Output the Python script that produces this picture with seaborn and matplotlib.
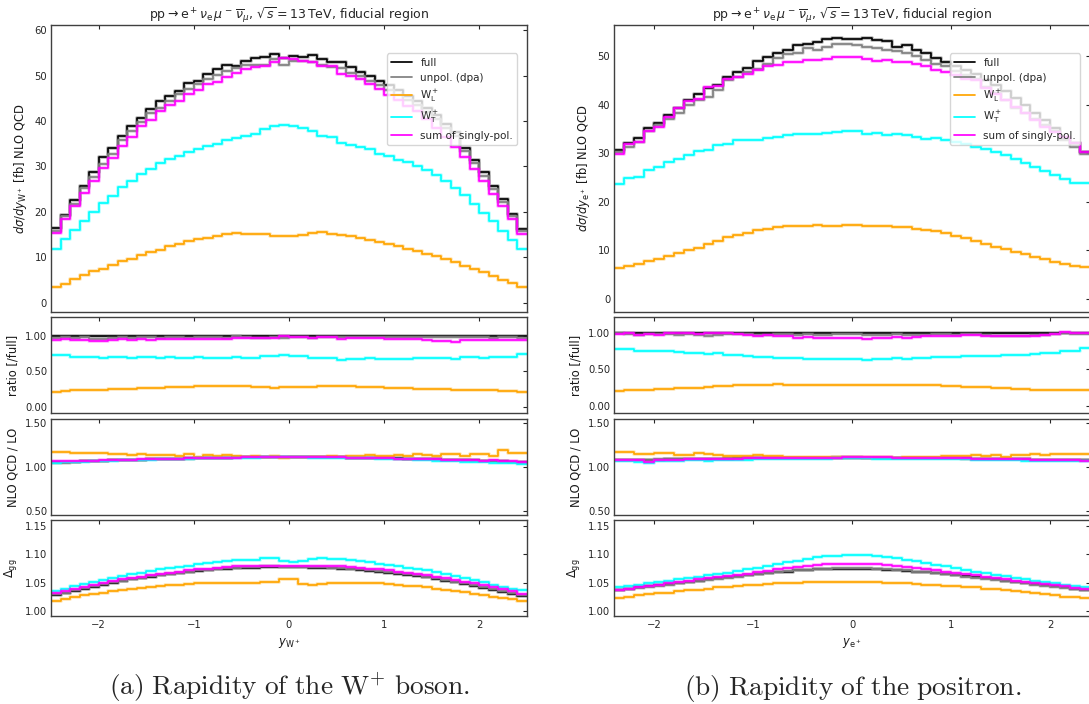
import numpy as np
import pandas as pd
import matplotlib
matplotlib.use("Agg")
import matplotlib.pyplot as plt
from matplotlib.lines import Line2D
import seaborn as sns

# ---------------------------------------------------------------------------
# Binning
# ---------------------------------------------------------------------------
edges_w = np.round(np.arange(-2.5, 2.5001, 0.1), 2)   # 50 bins in y_W+
edges_e = np.round(np.arange(-2.4, 2.4001, 0.1), 2)   # 48 bins in y_e+

series_names = ["full", "unpol", "WL", "WT", "sum"]
series_labels = ["full", "unpol. (dpa)", r"$\mathrm{W}^+_\mathrm{L}$",
                 r"$\mathrm{W}^+_\mathrm{T}$", "sum of singly-pol."]
series_colors = ["#000000", "#808080", "#FFA500", "#00FFFF", "#FF00FF"]

# ---------------------------------------------------------------------------
# W+ rapidity: NLO QCD differential cross sections [fb]
# ---------------------------------------------------------------------------
xs_full_w = [16.5, 19.4, 22.7, 25.8, 28.8, 32.0, 34.1, 36.6, 38.9, 40.6,
             42.6, 44.5, 45.6, 46.7, 48.4, 48.9, 50.3, 51.4, 52.3, 52.2,
             53.2, 53.9, 54.2, 54.8, 53.9, 54.4, 54.0, 54.6, 53.6, 53.1,
             52.9, 51.8, 50.8, 50.0, 48.9, 47.9, 46.8, 45.6, 44.5, 42.9,
             41.3, 39.4, 37.5, 34.0, 31.5, 28.7, 25.7, 22.8, 19.6, 16.2]
xs_unpol_w = [15.9, 19.1, 21.8, 25.3, 27.6, 30.6, 32.8, 35.9, 37.7, 39.7,
              41.8, 42.9, 44.5, 46.0, 47.0, 48.1, 49.2, 50.1, 50.9, 51.6,
              52.3, 52.4, 52.4, 53.6, 52.4, 53.3, 53.2, 52.9, 52.4, 51.9,
              51.6, 50.6, 49.8, 48.9, 47.9, 46.9, 45.8, 44.6, 43.5, 42.0,
              40.4, 38.5, 36.6, 33.3, 30.8, 28.0, 25.0, 22.2, 19.1, 15.7]
xs_wl_w = [3.5, 4.2, 5.2, 6.1, 6.9, 7.5, 8.4, 9.1, 9.7, 10.6,
           11.2, 11.7, 12.4, 13.0, 13.5, 14.1, 14.3, 14.7, 15.1, 15.4,
           15.2, 15.2, 15.1, 14.7, 14.7, 14.7, 15.0, 15.3, 15.5, 15.2,
           15.0, 14.8, 14.3, 13.9, 13.3, 12.9, 12.4, 11.8, 11.3, 10.8,
           10.2, 9.6, 8.9, 8.2, 7.5, 6.7, 5.9, 5.1, 4.3, 3.4]
xs_wt_w = [11.9, 14.1, 16.0, 18.1, 20.0, 21.9, 23.6, 25.4, 26.8, 28.3,
           29.5, 30.7, 31.7, 32.3, 33.1, 33.9, 34.6, 35.0, 35.9, 36.2,
           36.8, 37.2, 38.3, 38.8, 39.2, 39.0, 38.4, 37.7, 36.6, 36.4,
           35.1, 34.8, 34.2, 33.9, 32.8, 32.3, 31.5, 30.9, 30.2, 29.3,
           28.2, 26.8, 25.2, 23.8, 21.8, 19.8, 18.0, 15.9, 13.8, 11.9]
xs_sum_w = [15.4, 18.5, 21.3, 24.1, 26.8, 29.6, 31.9, 34.6, 36.4, 38.8,
            40.2, 42.2, 43.5, 44.3, 45.9, 46.9, 48.2, 48.6, 49.7, 50.5,
            51.4, 51.9, 52.2, 53.0, 53.8, 53.6, 53.2, 53.0, 52.2, 52.0,
            50.3, 50.0, 49.3, 48.2, 47.0, 45.8, 44.6, 43.4, 42.1, 40.4,
            38.4, 36.4, 34.2, 32.0, 29.5, 26.8, 24.0, 21.3, 18.4, 15.2]

# NLO QCD / LO K-factors, W+ rapidity
k_full_w = [1.055, 1.058, 1.062, 1.065, 1.068, 1.072, 1.075, 1.078, 1.082, 1.085,
            1.088, 1.090, 1.093, 1.095, 1.098, 1.100, 1.102, 1.105, 1.108, 1.110,
            1.112, 1.114, 1.118, 1.116, 1.115, 1.114, 1.116, 1.112, 1.110, 1.112,
            1.110, 1.108, 1.106, 1.104, 1.102, 1.100, 1.098, 1.095, 1.093, 1.090,
            1.088, 1.085, 1.082, 1.078, 1.075, 1.072, 1.068, 1.065, 1.062, 1.055]
k_unpol_w = [1.042, 1.050, 1.060, 1.064, 1.068, 1.071, 1.075, 1.079, 1.081, 1.085,
             1.087, 1.090, 1.092, 1.096, 1.097, 1.100, 1.103, 1.104, 1.108, 1.110,
             1.111, 1.115, 1.117, 1.116, 1.114, 1.115, 1.115, 1.112, 1.111, 1.111,
             1.109, 1.108, 1.105, 1.104, 1.101, 1.099, 1.097, 1.094, 1.092, 1.089,
             1.087, 1.084, 1.081, 1.077, 1.074, 1.070, 1.067, 1.062, 1.058, 1.050]
k_wl_w = [1.175, 1.172, 1.160, 1.162, 1.160, 1.158, 1.150, 1.148, 1.140, 1.145,
          1.140, 1.132, 1.142, 1.130, 1.150, 1.115, 1.135, 1.122, 1.135, 1.125,
          1.120, 1.125, 1.118, 1.122, 1.105, 1.110, 1.115, 1.120, 1.118, 1.122,
          1.120, 1.125, 1.128, 1.135, 1.125, 1.130, 1.140, 1.130, 1.150, 1.135,
          1.130, 1.150, 1.145, 1.130, 1.148, 1.152, 1.130, 1.195, 1.158, 1.158]
k_wt_w = [1.048, 1.052, 1.055, 1.060, 1.064, 1.068, 1.071, 1.075, 1.079, 1.082,
          1.085, 1.088, 1.091, 1.094, 1.096, 1.099, 1.101, 1.103, 1.105, 1.107,
          1.108, 1.108, 1.109, 1.110, 1.110, 1.110, 1.109, 1.108, 1.107, 1.106,
          1.104, 1.102, 1.100, 1.098, 1.095, 1.092, 1.089, 1.086, 1.082, 1.078,
          1.074, 1.070, 1.066, 1.062, 1.058, 1.054, 1.050, 1.046, 1.042, 1.035]
k_sum_w = [1.065, 1.066, 1.068, 1.070, 1.072, 1.075, 1.078, 1.080, 1.083, 1.086,
           1.088, 1.091, 1.093, 1.096, 1.098, 1.100, 1.102, 1.104, 1.106, 1.108,
           1.110, 1.111, 1.112, 1.112, 1.113, 1.112, 1.112, 1.111, 1.110, 1.110,
           1.109, 1.107, 1.105, 1.103, 1.101, 1.099, 1.097, 1.094, 1.092, 1.089,
           1.087, 1.084, 1.081, 1.078, 1.075, 1.072, 1.075, 1.070, 1.066, 1.062]

# Delta_gg, W+ rapidity
dgg_full_w = [1.029, 1.032, 1.036, 1.040, 1.043, 1.047, 1.050, 1.053, 1.056, 1.058,
              1.061, 1.063, 1.065, 1.067, 1.069, 1.071, 1.072, 1.074, 1.075, 1.076,
              1.077, 1.077, 1.078, 1.078, 1.078, 1.078, 1.078, 1.077, 1.077, 1.076,
              1.075, 1.074, 1.073, 1.071, 1.070, 1.068, 1.066, 1.064, 1.062, 1.060,
              1.057, 1.054, 1.051, 1.048, 1.045, 1.041, 1.038, 1.034, 1.031, 1.027]
dgg_unpol_w = [1.030, 1.033, 1.037, 1.041, 1.044, 1.048, 1.051, 1.054, 1.057, 1.059,
               1.062, 1.064, 1.066, 1.068, 1.070, 1.072, 1.073, 1.075, 1.076, 1.077,
               1.078, 1.078, 1.079, 1.079, 1.078, 1.078, 1.078, 1.078, 1.078, 1.077,
               1.076, 1.075, 1.074, 1.072, 1.071, 1.069, 1.067, 1.065, 1.063, 1.061,
               1.058, 1.055, 1.052, 1.049, 1.046, 1.042, 1.039, 1.035, 1.032, 1.029]
dgg_wl_w = [1.019, 1.022, 1.025, 1.028, 1.031, 1.033, 1.035, 1.037, 1.039, 1.041,
            1.043, 1.045, 1.046, 1.047, 1.048, 1.049, 1.050, 1.050, 1.049, 1.049,
            1.049, 1.050, 1.051, 1.052, 1.056, 1.056, 1.048, 1.047, 1.048, 1.049,
            1.050, 1.050, 1.050, 1.049, 1.049, 1.048, 1.047, 1.045, 1.044, 1.042,
            1.040, 1.038, 1.036, 1.034, 1.031, 1.029, 1.026, 1.024, 1.021, 1.019]
dgg_wt_w = [1.036, 1.040, 1.044, 1.048, 1.052, 1.055, 1.058, 1.062, 1.065, 1.068,
            1.071, 1.074, 1.076, 1.078, 1.080, 1.083, 1.085, 1.087, 1.089, 1.090,
            1.091, 1.091, 1.093, 1.094, 1.088, 1.087, 1.089, 1.092, 1.093, 1.092,
            1.092, 1.090, 1.088, 1.086, 1.084, 1.082, 1.080, 1.077, 1.075, 1.072,
            1.069, 1.066, 1.062, 1.058, 1.055, 1.051, 1.047, 1.043, 1.040, 1.037]
dgg_sum_w = [1.032, 1.035, 1.039, 1.043, 1.046, 1.050, 1.053, 1.056, 1.059, 1.061,
             1.064, 1.066, 1.068, 1.070, 1.072, 1.074, 1.075, 1.077, 1.078, 1.079,
             1.080, 1.080, 1.080, 1.080, 1.079, 1.079, 1.079, 1.079, 1.080, 1.080,
             1.079, 1.078, 1.077, 1.075, 1.074, 1.072, 1.070, 1.068, 1.066, 1.064,
             1.061, 1.058, 1.055, 1.052, 1.049, 1.046, 1.043, 1.039, 1.035, 1.031]

# ---------------------------------------------------------------------------
# Positron rapidity: NLO QCD differential cross sections [fb]
# ---------------------------------------------------------------------------
xs_full_e = [30.6, 32.0, 33.2, 35.2, 36.3, 37.8, 39.2, 40.9, 42.1, 43.4,
             44.1, 45.7, 46.7, 47.5, 49.0, 49.8, 50.6, 51.3, 52.2, 52.5,
             52.9, 53.4, 53.7, 53.4, 53.4, 53.7, 53.2, 53.1, 51.8, 52.3,
             51.3, 50.5, 49.5, 48.8, 48.0, 47.1, 46.2, 45.1, 44.0, 42.8,
             41.3, 40.0, 38.3, 36.8, 35.2, 33.0, 32.0, 30.3]
xs_unpol_e = [30.3, 31.3, 32.3, 34.5, 35.8, 37.1, 38.2, 39.9, 40.9, 41.6,
              42.9, 45.0, 45.7, 46.6, 47.2, 48.4, 49.6, 50.3, 50.6, 51.6,
              51.3, 51.8, 52.4, 52.5, 52.2, 51.8, 51.6, 51.2, 51.0, 50.5,
              50.0, 49.2, 48.4, 47.9, 46.8, 46.0, 45.3, 43.6, 42.3, 40.9,
              39.3, 38.2, 37.1, 35.8, 34.5, 32.7, 31.3, 29.9]
xs_wl_e = [6.4, 6.8, 7.2, 7.9, 8.2, 8.9, 9.4, 10.1, 10.5, 11.4,
           12.0, 12.7, 13.2, 13.5, 14.2, 14.5, 14.9, 15.0, 15.1, 15.1,
           15.2, 15.0, 15.1, 15.2, 15.2, 15.1, 15.1, 15.0, 14.9, 14.9,
           14.5, 14.2, 14.0, 13.5, 13.0, 12.5, 12.0, 11.4, 10.8, 10.3,
           9.7, 9.2, 8.6, 8.2, 7.7, 7.3, 6.8, 6.6]
xs_wt_e = [23.6, 24.8, 25.1, 26.5, 27.2, 28.2, 28.8, 29.6, 30.5, 30.6,
           31.6, 31.8, 32.7, 32.7, 32.8, 33.2, 33.4, 33.7, 33.9, 33.9,
           34.0, 34.2, 34.4, 34.5, 34.5, 34.0, 34.2, 33.8, 33.9, 33.7,
           33.4, 32.9, 33.2, 32.8, 32.3, 31.8, 31.3, 30.8, 30.3, 29.6,
           28.7, 27.9, 27.2, 26.4, 25.5, 24.6, 23.8, 23.8]
xs_sum_e = [29.9, 31.8, 32.3, 34.5, 35.4, 37.5, 39.2, 40.7, 41.2, 43.5,
            43.8, 45.3, 45.7, 46.2, 47.1, 47.9, 48.1, 48.7, 48.7, 49.1,
            49.1, 49.4, 49.7, 49.8, 49.7, 49.3, 49.0, 49.1, 48.8, 48.8,
            48.4, 47.9, 47.1, 46.7, 46.0, 45.3, 45.0, 43.3, 42.1, 40.9,
            39.5, 38.2, 36.8, 35.4, 34.4, 33.4, 32.0, 30.3]

# NLO QCD / LO K-factors, positron rapidity
k_full_e = [1.078, 1.080, 1.082, 1.083, 1.085, 1.087, 1.088, 1.090, 1.092, 1.094,
            1.095, 1.097, 1.098, 1.100, 1.101, 1.102, 1.104, 1.105, 1.106, 1.106,
            1.107, 1.108, 1.108, 1.108, 1.108, 1.108, 1.107, 1.107, 1.106, 1.106,
            1.105, 1.104, 1.103, 1.101, 1.100, 1.098, 1.096, 1.094, 1.092, 1.090,
            1.088, 1.087, 1.085, 1.083, 1.082, 1.080, 1.082, 1.078]
k_unpol_e = [1.080, 1.082, 1.080, 1.085, 1.086, 1.088, 1.090, 1.091, 1.093, 1.095,
             1.096, 1.098, 1.099, 1.101, 1.102, 1.103, 1.104, 1.106, 1.106, 1.107,
             1.108, 1.108, 1.109, 1.109, 1.109, 1.108, 1.108, 1.107, 1.107, 1.106,
             1.105, 1.104, 1.102, 1.101, 1.099, 1.097, 1.095, 1.093, 1.091, 1.089,
             1.087, 1.086, 1.084, 1.082, 1.081, 1.079, 1.080, 1.077]
k_wl_e = [1.176, 1.170, 1.150, 1.148, 1.160, 1.160, 1.140, 1.135, 1.158, 1.145,
          1.135, 1.130, 1.130, 1.125, 1.135, 1.125, 1.128, 1.115, 1.118, 1.120,
          1.118, 1.114, 1.116, 1.112, 1.110, 1.112, 1.110, 1.114, 1.105, 1.110,
          1.118, 1.120, 1.120, 1.125, 1.128, 1.130, 1.135, 1.128, 1.140, 1.118,
          1.135, 1.140, 1.150, 1.140, 1.145, 1.150, 1.145, 1.152]
k_wt_e = [1.065, 1.068, 1.060, 1.045, 1.070, 1.072, 1.074, 1.076, 1.075, 1.065,
          1.078, 1.080, 1.082, 1.085, 1.087, 1.088, 1.090, 1.092, 1.094, 1.095,
          1.096, 1.097, 1.098, 1.098, 1.099, 1.098, 1.090, 1.097, 1.096, 1.095,
          1.094, 1.093, 1.092, 1.090, 1.088, 1.086, 1.084, 1.082, 1.080, 1.078,
          1.076, 1.074, 1.072, 1.070, 1.068, 1.066, 1.065, 1.064]
k_sum_e = [1.080, 1.078, 1.075, 1.062, 1.080, 1.082, 1.084, 1.086, 1.088, 1.090,
           1.092, 1.094, 1.096, 1.098, 1.100, 1.101, 1.102, 1.104, 1.105, 1.106,
           1.107, 1.108, 1.108, 1.109, 1.110, 1.110, 1.109, 1.109, 1.108, 1.107,
           1.106, 1.105, 1.104, 1.102, 1.100, 1.099, 1.097, 1.095, 1.093, 1.091,
           1.089, 1.087, 1.085, 1.083, 1.080, 1.078, 1.076, 1.074]

# Delta_gg, positron rapidity
dgg_full_e = [1.038, 1.040, 1.042, 1.044, 1.046, 1.048, 1.050, 1.052, 1.054, 1.056,
              1.058, 1.060, 1.062, 1.064, 1.066, 1.067, 1.069, 1.070, 1.072, 1.073,
              1.074, 1.074, 1.075, 1.075, 1.075, 1.075, 1.074, 1.073, 1.072, 1.071,
              1.070, 1.069, 1.068, 1.066, 1.064, 1.062, 1.060, 1.058, 1.056, 1.054,
              1.052, 1.050, 1.048, 1.046, 1.044, 1.042, 1.040, 1.038]
dgg_unpol_e = [1.037, 1.039, 1.041, 1.043, 1.045, 1.047, 1.049, 1.051, 1.053, 1.055,
               1.057, 1.059, 1.061, 1.063, 1.065, 1.067, 1.069, 1.071, 1.072, 1.073,
               1.074, 1.075, 1.076, 1.076, 1.076, 1.076, 1.075, 1.074, 1.073, 1.072,
               1.070, 1.069, 1.067, 1.065, 1.063, 1.061, 1.059, 1.057, 1.055, 1.053,
               1.051, 1.049, 1.047, 1.045, 1.043, 1.041, 1.039, 1.037]
dgg_wl_e = [1.024, 1.026, 1.028, 1.030, 1.032, 1.033, 1.035, 1.037, 1.038, 1.040,
            1.042, 1.043, 1.044, 1.046, 1.047, 1.048, 1.049, 1.050, 1.050, 1.051,
            1.051, 1.051, 1.051, 1.051, 1.051, 1.051, 1.051, 1.050, 1.050, 1.049,
            1.048, 1.047, 1.046, 1.045, 1.044, 1.043, 1.042, 1.040, 1.039, 1.037,
            1.035, 1.034, 1.032, 1.030, 1.028, 1.026, 1.025, 1.024]
dgg_wt_e = [1.043, 1.045, 1.047, 1.050, 1.052, 1.054, 1.056, 1.058, 1.061, 1.063,
            1.065, 1.068, 1.071, 1.074, 1.077, 1.080, 1.083, 1.086, 1.089, 1.092,
            1.095, 1.097, 1.098, 1.099, 1.099, 1.099, 1.098, 1.096, 1.094, 1.091,
            1.088, 1.085, 1.082, 1.079, 1.076, 1.073, 1.070, 1.067, 1.064, 1.062,
            1.059, 1.057, 1.054, 1.052, 1.050, 1.047, 1.045, 1.043]
dgg_sum_e = [1.038, 1.040, 1.043, 1.045, 1.047, 1.050, 1.052, 1.054, 1.056, 1.058,
             1.060, 1.062, 1.064, 1.066, 1.069, 1.071, 1.074, 1.076, 1.078, 1.080,
             1.082, 1.083, 1.084, 1.084, 1.084, 1.084, 1.083, 1.082, 1.080, 1.078,
             1.076, 1.074, 1.072, 1.070, 1.068, 1.065, 1.063, 1.061, 1.059, 1.056,
             1.054, 1.052, 1.050, 1.048, 1.046, 1.044, 1.041, 1.039]

# ---------------------------------------------------------------------------
# Style
# ---------------------------------------------------------------------------
sns.set_theme(style="white")
plt.rcParams.update({
    "font.family": ["DejaVu Sans"],
    "mathtext.fontset": "dejavusans",
    "axes.edgecolor": "0.25",
    "axes.linewidth": 1.0,
    "xtick.direction": "in",
    "ytick.direction": "in",
    "xtick.top": True,
    "ytick.right": True,
    "xtick.major.size": 3.0,
    "ytick.major.size": 3.0,
    "xtick.major.width": 0.8,
    "ytick.major.width": 0.8,
    "xtick.color": "0.15",
    "ytick.color": "0.15",
    "xtick.labelsize": 7.2,
    "ytick.labelsize": 7.2,
    "xtick.major.pad": 3.0,
    "ytick.major.pad": 3.0,
    "axes.labelsize": 8.3,
    "axes.labelcolor": "0.1",
    "axes.titlesize": 9.0,
})

W, H = 1089, 704
fig = plt.figure(figsize=(W / 100, H / 100), dpi=100)

# panel rows in pixels (top, bottom)
rows_px = [(24.7, 312.3), (317.3, 413.3), (419.0, 515.0), (520.3, 616.0)]
axes_w_px = 475.5
cols_px = [51.2, 614.4]


def make_axes(x0_px):
    axs = []
    for top, bot in rows_px:
        axs.append(fig.add_axes([x0_px / W, 1 - bot / H, axes_w_px / W, (bot - top) / H]))
    return axs


def draw_steps(ax, edges, values, color):
    vals = np.asarray(values, dtype=float)
    assert len(vals) == len(edges) - 1
    df = pd.DataFrame({"x": edges, "y": np.append(vals, vals[-1])})
    sns.lineplot(data=df, x="x", y="y", ax=ax, color=color, lw=2.8, alpha=0.25,
                 drawstyle="steps-post", errorbar=None, sort=False, legend=False)
    sns.lineplot(data=df, x="x", y="y", ax=ax, color=color, lw=1.25,
                 drawstyle="steps-post", errorbar=None, sort=False, legend=False)


panels = [
    dict(edges=edges_w, xlim=(-2.5, 2.5),
         xs=[xs_full_w, xs_unpol_w, xs_wl_w, xs_wt_w, xs_sum_w],
         k=[k_full_w, k_unpol_w, k_wl_w, k_wt_w, k_sum_w],
         dgg=[dgg_full_w, dgg_unpol_w, dgg_wl_w, dgg_wt_w, dgg_sum_w],
         ylim_main=(-2.1, 61.2), yticks_main=[0, 10, 20, 30, 40, 50, 60],
         ylim_ratio=(-0.094, 1.258),
         ylabel=r"$d\sigma/dy_{\mathrm{W}^+}$ [fb] NLO QCD",
         xlabel=r"$y_{\mathrm{W}^+}$",
         caption=r"$\mathrm{(a)\ Rapidity\ of\ the\ W^{+}\ boson.}$"),
    dict(edges=edges_e, xlim=(-2.4, 2.4),
         xs=[xs_full_e, xs_unpol_e, xs_wl_e, xs_wt_e, xs_sum_e],
         k=[k_full_e, k_unpol_e, k_wl_e, k_wt_e, k_sum_e],
         dgg=[dgg_full_e, dgg_unpol_e, dgg_wl_e, dgg_wt_e, dgg_sum_e],
         ylim_main=(-2.7, 56.4), yticks_main=[0, 10, 20, 30, 40, 50],
         ylim_ratio=(-0.10, 1.21),
         ylabel=r"$d\sigma/dy_{\mathrm{e}^+}$ [fb] NLO QCD",
         xlabel=r"$y_{\mathrm{e}^+}$",
         caption=r"$\mathrm{(b)\ Rapidity\ of\ the\ positron.}$"),
]

title = (r"$\mathrm{pp}\rightarrow\mathrm{e}^+\nu_\mathrm{e}\,\mu^-\,\overline{\nu}_\mu$, "
         r"$\sqrt{s}=13\,\mathrm{TeV}$, fiducial region")

for x0, p in zip(cols_px, panels):
    ax_main, ax_ratio, ax_k, ax_dgg = make_axes(x0)
    edges = p["edges"]
    full = np.asarray(p["xs"][0], dtype=float)

    for vals, color in zip(p["xs"], series_colors):
        draw_steps(ax_main, edges, vals, color)
        draw_steps(ax_ratio, edges, np.asarray(vals, dtype=float) / full, color)
    for vals, color in zip(p["k"], series_colors):
        draw_steps(ax_k, edges, vals, color)
    for vals, color in zip(p["dgg"], series_colors):
        draw_steps(ax_dgg, edges, vals, color)

    ax_main.set_ylim(*p["ylim_main"])
    ax_main.set_yticks(p["yticks_main"])
    ax_ratio.set_ylim(*p["ylim_ratio"])
    ax_ratio.set_yticks([0.0, 0.5, 1.0])
    ax_ratio.set_yticklabels(["0.00", "0.50", "1.00"])
    ax_k.set_ylim(0.45, 1.55)
    ax_k.set_yticks([0.5, 1.0, 1.5])
    ax_k.set_yticklabels(["0.50", "1.00", "1.50"])
    ax_dgg.set_ylim(0.9918, 1.16)
    ax_dgg.set_yticks([1.00, 1.05, 1.10, 1.15])
    ax_dgg.set_yticklabels(["1.00", "1.05", "1.10", "1.15"])

    for ax in (ax_main, ax_ratio, ax_k, ax_dgg):
        ax.set_xlim(*p["xlim"])
        ax.set_xticks([-2, -1, 0, 1, 2])
        ax.set_xlabel("")
        ax.tick_params(which="both", direction="in", top=True, right=True)
    for ax in (ax_main, ax_ratio, ax_k):
        ax.tick_params(labelbottom=False)
    ax_dgg.set_xticklabels(["\u22122", "\u22121", "0", "1", "2"])

    ax_main.set_ylabel(p["ylabel"])
    ax_ratio.set_ylabel("ratio [/full]")
    ax_k.set_ylabel("NLO QCD / LO")
    ax_dgg.set_ylabel(r"$\Delta_{\mathrm{gg}}$")
    ax_dgg.set_xlabel(p["xlabel"])
    ax_main.set_title(title, pad=4)

    handles = [Line2D([], [], color=c, lw=1.25) for c in series_colors]
    ax_main.legend(handles, series_labels, loc="upper right",
                   bbox_to_anchor=(0.98, 0.90), borderaxespad=0.0,
                   fontsize=7.5, frameon=True, framealpha=0.8,
                   edgecolor="0.8", fancybox=True)

    fig.text((x0 + axes_w_px / 2) / W, 1 - 688 / H, p["caption"],
             ha="center", va="center", fontsize=19.7,
             math_fontfamily="cm")

fig.savefig("out.png", dpi=100, facecolor="white")
